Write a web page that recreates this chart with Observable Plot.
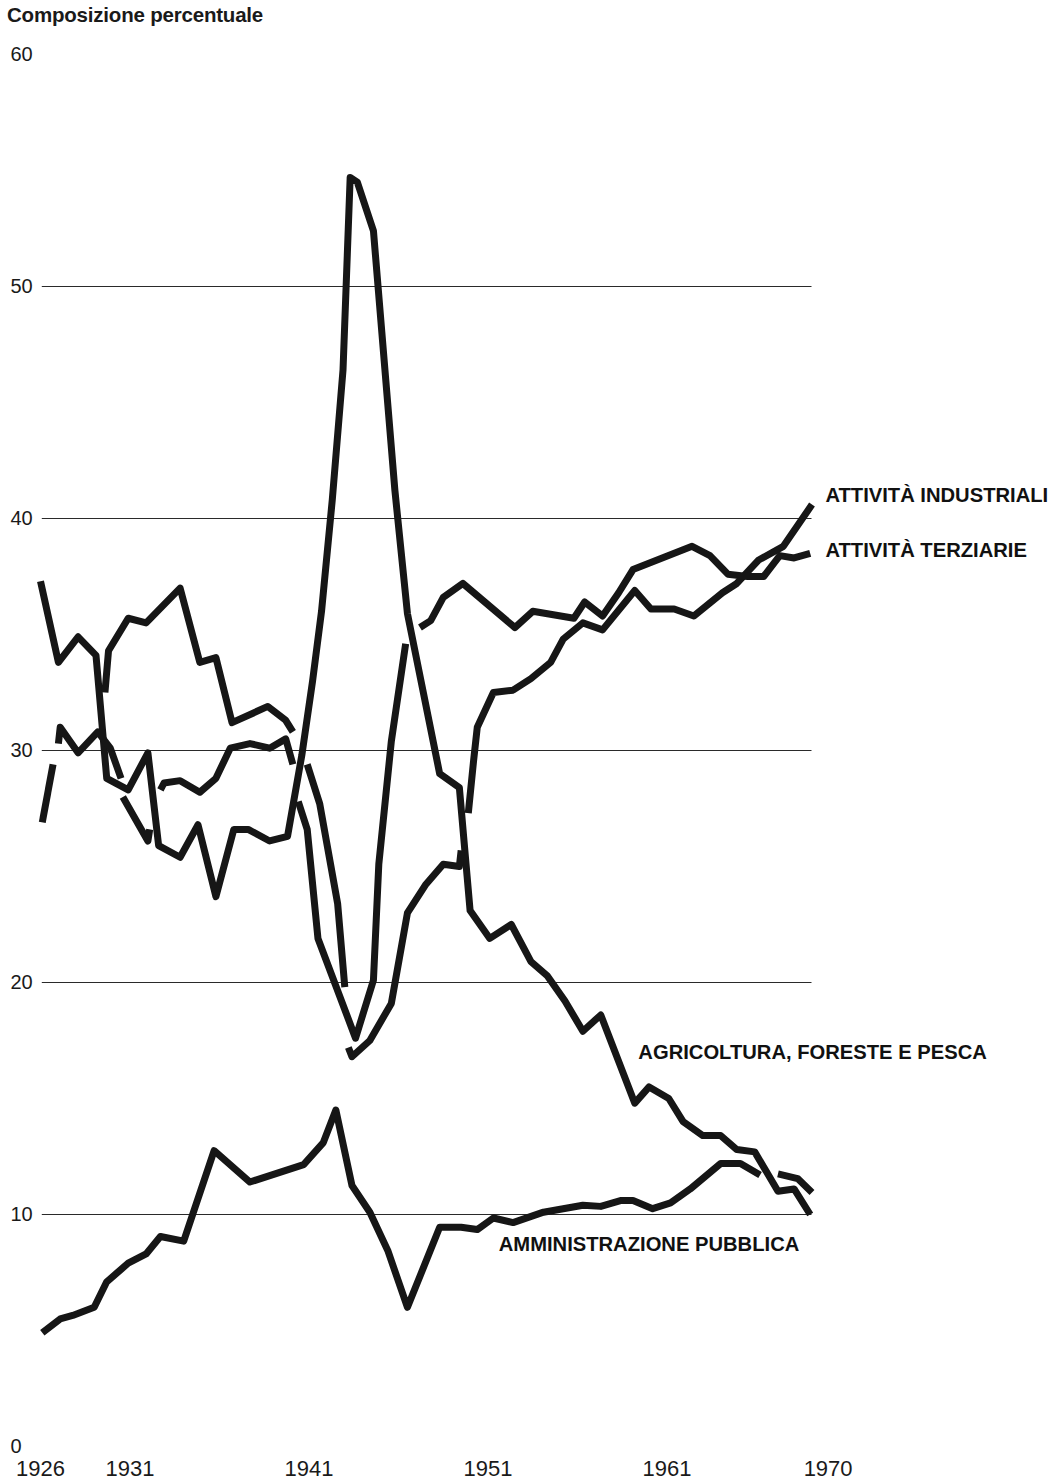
<!DOCTYPE html>
<html>
<head>
<meta charset="utf-8">
<script src="https://cdn.jsdelivr.net/npm/d3@7"></script>
<script src="https://cdn.jsdelivr.net/npm/@observablehq/plot@0.6"></script>
<style>
  html, body { margin: 0; padding: 0; background: #fff; }
  #wrap { width: 1055px; height: 1480px; position: relative; overflow: hidden; }
  #titolo { height: 30px; font-family: "Liberation Sans", Arial, sans-serif; font-weight: bold; font-size: 20.5px; color: #1a1a1a; padding-left: 7px; line-height: 30px; letter-spacing: -0.2px; }
</style>
</head>
<body>
<div id="wrap">
  <div id="titolo">Composizione percentuale</div>
  <div id="chart"></div>
</div>
<script>
// ---- Data (years, percentage share) ----
const serie = ["Agricoltura, foreste e pesca", "Attività industriali", "Attività terziarie", "Amministrazione pubblica"];

// Agricoltura, foreste e pesca (one continuous line)
const agricolturaAnni = [1926.0, 1927.0, 1928.1, 1929.1, 1929.7, 1930.9, 1932.0, 1932.6, 1933.8, 1934.8, 1935.8, 1936.8, 1937.6, 1938.8, 1939.8, 1940.6, 1941.2, 1941.7, 1942.3, 1942.9, 1943.3, 1943.7, 1944.6, 1945.8, 1946.5, 1948.3, 1949.4, 1950.0, 1951.1, 1952.3, 1953.4, 1954.3, 1955.3, 1956.3, 1957.3, 1959.2, 1960.0, 1961.1, 1961.9, 1963.0, 1964.0, 1964.9, 1965.9, 1967.2, 1968.1, 1969.0];
const agricolturaValori = [37.3, 33.8, 34.9, 34.1, 28.8, 28.3, 29.9, 25.9, 25.4, 26.8, 23.7, 26.6, 26.6, 26.1, 26.3, 29.8, 33.0, 36.0, 40.8, 46.4, 54.7, 54.5, 52.4, 41.2, 35.9, 29.0, 28.4, 23.1, 21.9, 22.5, 20.9, 20.3, 19.2, 17.9, 18.6, 14.8, 15.5, 15.0, 14.0, 13.4, 13.4, 12.8, 12.7, 11.0, 11.1, 10.0];
const agricolturaTratti = [46];

// Attività industriali (spliced series: several separate strokes)
const industrialiAnni = [1927.0, 1927.1, 1928.1, 1929.2, 1929.9, 1930.5,
  1930.6, 1932.0, 1932.1,
  1932.7, 1932.9, 1933.8, 1934.9, 1935.8, 1936.6, 1937.7, 1938.8, 1939.7, 1940.1,
  1940.9, 1941.6, 1942.6, 1943.0,
  1943.2, 1943.4, 1944.4, 1945.6, 1946.5, 1947.5, 1948.5, 1949.4, 1949.5,
  1949.9, 1950.2, 1950.4, 1951.3, 1952.4, 1953.4, 1954.5, 1955.2, 1956.3, 1957.4, 1959.2, 1960.1, 1961.4, 1962.5, 1964.1, 1964.9, 1966.1, 1967.5, 1969.1];
const industrialiValori = [30.3, 31.0, 29.9, 30.8, 30.1, 28.8,
  28.0, 26.1, 26.6,
  28.3, 28.6, 28.7, 28.2, 28.8, 30.1, 30.3, 30.1, 30.5, 29.4,
  29.4, 27.7, 23.4, 19.8,
  17.2, 16.8, 17.5, 19.1, 23.0, 24.2, 25.1, 25.0, 25.7,
  27.3, 29.6, 31.0, 32.5, 32.6, 33.1, 33.8, 34.8, 35.5, 35.2, 36.9, 36.1, 36.1, 35.8, 36.8, 37.2, 38.2, 38.8, 40.6];
const industrialiTratti = [6, 3, 10, 4, 9, 19];

// Attività terziarie
const terziarieAnni = [1926.1, 1926.7,
  1929.6, 1929.8, 1930.9, 1931.9, 1933.8, 1934.9, 1935.8, 1936.7, 1938.7, 1939.7, 1940.1,
  1940.4, 1940.9, 1941.5, 1943.6, 1944.6, 1944.9, 1945.6, 1946.4,
  1947.2, 1947.8, 1948.5, 1949.6, 1952.5, 1953.5, 1955.8, 1956.4, 1957.4, 1958.3, 1959.1, 1962.4, 1963.4, 1964.4, 1965.5, 1966.4, 1967.3, 1968.1, 1969.0];
const terziarieValori = [26.9, 29.4,
  32.5, 34.3, 35.7, 35.5, 37.0, 33.8, 34.0, 31.2, 31.9, 31.3, 30.8,
  27.8, 26.6, 21.9, 17.6, 20.1, 25.1, 30.4, 34.6,
  35.3, 35.6, 36.6, 37.2, 35.3, 36.0, 35.7, 36.4, 35.8, 36.8, 37.8, 38.8, 38.4, 37.6, 37.5, 37.5, 38.4, 38.3, 38.5];
const terziarieTratti = [2, 11, 8, 19];

// Amministrazione pubblica
const amministrazioneAnni = [1926.1, 1927.1, 1927.8, 1929.0, 1929.7, 1930.9, 1931.9, 1932.7, 1934.0, 1935.7, 1937.7, 1940.7, 1941.8, 1942.5, 1943.4, 1944.4, 1945.4, 1946.5, 1948.3, 1949.5, 1950.4, 1951.3, 1952.4, 1954.1, 1956.3, 1957.3, 1958.4, 1959.1, 1960.2, 1961.2, 1962.3, 1964.0, 1965.1, 1966.2,
  1967.2, 1968.3, 1969.1];
const amministrazioneValori = [4.9, 5.5, 5.65, 6.0, 7.1, 7.9, 8.3, 9.05, 8.85, 12.75, 11.4, 12.15, 13.1, 14.5, 11.25, 10.1, 8.45, 6.0, 9.45, 9.45, 9.35, 9.85, 9.65, 10.1, 10.4, 10.35, 10.6, 10.6, 10.25, 10.5, 11.1, 12.2, 12.2, 11.7,
  11.75, 11.55, 10.95];
const amministrazioneTratti = [34, 3];

// Axes
const yTicks = [0, 10, 20, 30, 40, 50, 60];
const gridValori = [10, 20, 30, 40, 50];
const xTicks = [1926, 1931, 1941, 1951, 1961, 1970];
const gridDa = 1926.1, gridA = 1969.1;

// Direct labels (anchor year, value)
const etichette = [
  {testo: "ATTIVITÀ INDUSTRIALI", anno: 1969.85, valore: 41.0},
  {testo: "ATTIVITÀ TERZIARIE", anno: 1969.85, valore: 38.6},
  {testo: "AGRICOLTURA, FORESTE E PESCA", anno: 1959.4, valore: 17.0},
  {testo: "AMMINISTRAZIONE PUBBLICA", anno: 1951.6, valore: 8.7}
];

// ---- Build table ----
const righe = [];
function aggiungi(nome, anni, valori, tratti) {
  let i = 0;
  tratti.forEach((n, t) => {
    for (let k = 0; k < n; k++, i++) {
      righe.push({serie: nome, anno: anni[i], valore: valori[i], tratto: nome + "#" + t});
    }
  });
}
aggiungi(serie[0], agricolturaAnni, agricolturaValori, agricolturaTratti);
aggiungi(serie[1], industrialiAnni, industrialiValori, industrialiTratti);
aggiungi(serie[2], terziarieAnni, terziarieValori, terziarieTratti);
aggiungi(serie[3], amministrazioneAnni, amministrazioneValori, amministrazioneTratti);

const font = "'Liberation Sans', Arial, Helvetica, sans-serif";

const chart = Plot.plot({
  width: 1055,
  height: 1450,
  marginLeft: 40,
  marginRight: 227.4,
  marginTop: 24,
  marginBottom: 34,
  style: {background: "white", fontFamily: font, color: "#1a1a1a", overflow: "visible"},
  x: {domain: [1926, 1970]},
  y: {domain: [0, 60]},
  marks: [
    Plot.ruleY(gridValori, {x1: gridDa, x2: gridA, stroke: "#2a2a2a", strokeWidth: 1.1}),
    Plot.line(righe, {x: "anno", y: "valore", z: "tratto", stroke: "#161616", strokeWidth: 7, strokeLinejoin: "round", strokeLinecap: "butt", curve: "linear"}),
    Plot.axisY(yTicks, {tickSize: 0, tickPadding: 30, textAnchor: "start", fontSize: 20, fontFamily: font, fill: "#1a1a1a", label: null}),
    Plot.axisX(xTicks, {tickSize: 0, tickPadding: 14, fontSize: 22, fontFamily: "'Liberation Sans Narrow', " + font, fill: "#1a1a1a", tickFormat: d => String(d), label: null}),
    Plot.text(etichette, {x: "anno", y: "valore", text: "testo", textAnchor: "start", fontWeight: "bold", fontSize: 20.2, fontFamily: font, fill: "#111"})
  ]
});
document.getElementById("chart").appendChild(chart);
</script>
</body>
</html>
